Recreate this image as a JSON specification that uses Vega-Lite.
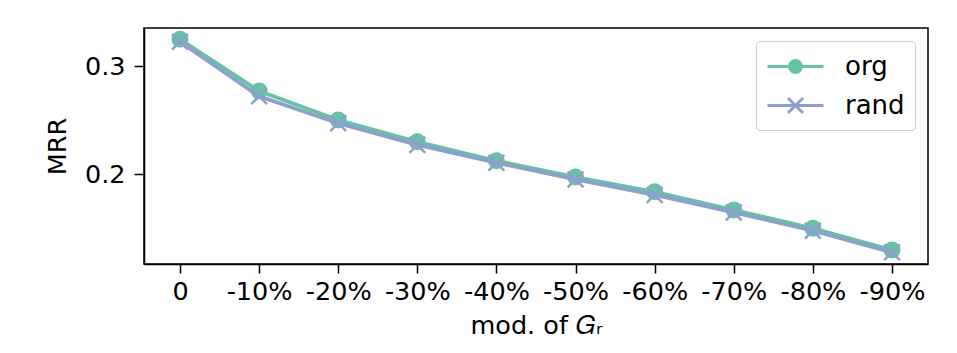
{
  "$schema": "https://vega.github.io/schema/vega-lite/v6.json",
  "width": 784,
  "height": 236,
  "autosize": {"type": "none"},
  "padding": {"left": 144, "top": 28, "right": 29, "bottom": 89},
  "background": "white",
  "config": {
    "font": "DejaVu Sans",
    "view": {"stroke": "black", "strokeWidth": 1.5},
    "axis": {
      "domainColor": "black", "domainWidth": 1.5,
      "tickColor": "black", "tickWidth": 1.5, "tickSize": 9,
      "labelFont": "DejaVu Sans", "titleFont": "DejaVu Sans",
      "labelFontSize": 25.5, "titleFontSize": 25.5,
      "labelColor": "black", "titleColor": "black",
      "titleFontWeight": "normal", "grid": false
    },
    "legend": {"labelFont": "DejaVu Sans"}
  },
  "data": {
    "values": [
      {"mod": "0", "series": "org", "mrr": 0.3247},
      {"mod": "-10%", "series": "org", "mrr": 0.2769},
      {"mod": "-20%", "series": "org", "mrr": 0.2500},
      {"mod": "-30%", "series": "org", "mrr": 0.2299},
      {"mod": "-40%", "series": "org", "mrr": 0.2123},
      {"mod": "-50%", "series": "org", "mrr": 0.1972},
      {"mod": "-60%", "series": "org", "mrr": 0.1836},
      {"mod": "-70%", "series": "org", "mrr": 0.1667},
      {"mod": "-80%", "series": "org", "mrr": 0.1497},
      {"mod": "-90%", "series": "org", "mrr": 0.1296},
      {"mod": "0", "series": "rand", "mrr": 0.3225},
      {"mod": "-10%", "series": "rand", "mrr": 0.2720},
      {"mod": "-20%", "series": "rand", "mrr": 0.2470},
      {"mod": "-30%", "series": "rand", "mrr": 0.2270},
      {"mod": "-40%", "series": "rand", "mrr": 0.2105},
      {"mod": "-50%", "series": "rand", "mrr": 0.1950},
      {"mod": "-60%", "series": "rand", "mrr": 0.1806},
      {"mod": "-70%", "series": "rand", "mrr": 0.1645},
      {"mod": "-80%", "series": "rand", "mrr": 0.1475},
      {"mod": "-90%", "series": "rand", "mrr": 0.1275}
    ]
  },
  "encoding": {
    "x": {
      "field": "mod", "type": "ordinal",
      "sort": ["0", "-10%", "-20%", "-30%", "-40%", "-50%", "-60%", "-70%", "-80%", "-90%"],
      "scale": {"type": "point", "padding": 0.455},
      "axis": {"title": "mod. of 𝐺ᵣ", "labelAngle": 0, "labelPadding": 6, "titlePadding": 9}
    },
    "y": {
      "field": "mrr", "type": "quantitative",
      "scale": {"domain": [0.1167, 0.3352], "nice": false, "zero": false},
      "axis": {"title": "MRR", "values": [0.2, 0.3], "format": ".1f", "tickSize": 10, "labelPadding": 9, "titlePadding": 14}
    },
    "color": {
      "field": "series", "type": "nominal",
      "scale": {"domain": ["org", "rand"], "range": ["#66c2a5", "#8da0cb"]},
      "legend": {
        "title": null,
        "orient": "top-right",
        "offset": 13,
        "padding": 10,
        "strokeColor": "#cccccc",
        "fillColor": "white",
        "cornerRadius": 4,
        "labelFontSize": 26,
        "labelColor": "black",
        "symbolSize": 784,
        "symbolStrokeWidth": 3,
        "rowPadding": 10,
        "labelOffset": 48,
        "encode": {
          "symbols": {
            "update": {
              "shape": {"signal": "datum.value === 'org' ? 'M-1,0H3M0.57,0A0.43,0.43,0,1,1,1.43,0A0.43,0.43,0,1,1,0.57,0Z' : 'M-1,0H3M0.46,-0.54L1.54,0.54M0.46,0.54L1.54,-0.54'"},
              "fill": {"signal": "datum.value === 'org' ? '#66c2a5' : 'transparent'"},
              "stroke": {"signal": "datum.value === 'org' ? '#66c2a5' : '#8da0cb'"},
              "opacity": {"value": 1}
            }
          }
        }
      }
    }
  },
  "layer": [
    {"transform": [{"filter": "datum.series === 'org'"}], "mark": {"type": "line", "strokeWidth": 3.8}},
    {"transform": [{"filter": "datum.series === 'org'"}], "mark": {"type": "point", "shape": "circle", "filled": true, "size": 289, "opacity": 1}},
    {"transform": [{"filter": "datum.series === 'rand'"}], "mark": {"type": "line", "strokeWidth": 3.8}},
    {"transform": [{"filter": "datum.series === 'rand'"}], "mark": {"type": "point", "shape": "M-1,-1L1,1M-1,1L1,-1", "filled": false, "strokeWidth": 2.5, "size": 250, "opacity": 1}}
  ]
}
